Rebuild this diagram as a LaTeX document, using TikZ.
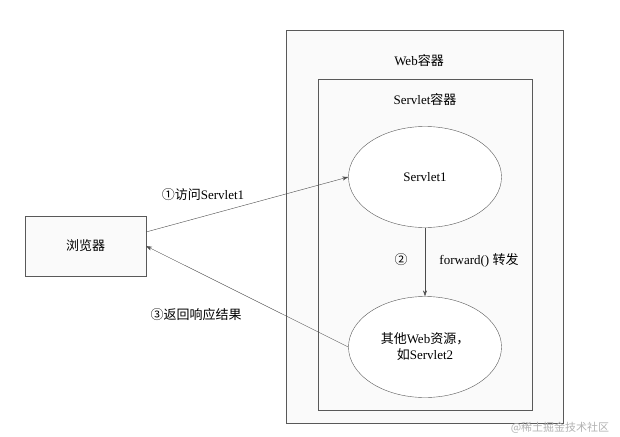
\documentclass[tikz,border=0pt]{standalone}
\usepackage{fontspec}
\setmainfont{Liberation Serif}
\newfontfamily\cjk{Noto Sans CJK SC}
\usetikzlibrary{positioning,shapes.geometric,arrows.meta}
\tikzset{
  box/.style={draw=black!65, fill=black!2},
  oval/.style={draw=black!65, fill=white, ellipse, minimum width=153pt, minimum height=101pt, align=center},
  link/.style={draw=black!70, -{Stealth[length=6pt,width=4pt]}},
  txt/.style={font=\fontsize{13}{16}\selectfont}
}
\begin{document}
\begin{tikzpicture}[x=1pt,y=-1pt,txt]
\useasboundingbox (0,0) rectangle (620,436);
% containers
\draw[box] (286,30) rectangle (563,423);
\node at (419,61) {Web{\cjk 容器}};
\draw[box] (318,79) rectangle (532,410);
\node at (425,100) {Servlet{\cjk 容器}};
% resources
\node[oval] (s1) at (425,177) {Servlet1};
\node[oval] (s2) at (425,347) {{\cjk 其他}Web{\cjk 资源，}\\{\cjk 如}Servlet2};
\node[box, minimum width=121pt, minimum height=60pt] (br) at (85.5,246) {\cjk 浏览器};
% requests
\coordinate (bo) at (146,232);
\coordinate (bi) at (146,246);
\draw[link] (bo) -- (s1.west);
\draw[link] (s2.west) -- (bi);
\draw[link] (s1.south) -- (s2.north);
\node at (203,195) {{\cjk ①访问}Servlet1};
\node at (196,315) {\cjk ③返回响应结果};
\node at (401,260) {\cjk ②};
\node at (479,260) {forward() {\cjk 转发}};
\node[text=black!30, font=\fontsize{11}{13}\selectfont\cjk] at (560,428) {@稀土掘金技术社区};
\end{tikzpicture}
\end{document}
